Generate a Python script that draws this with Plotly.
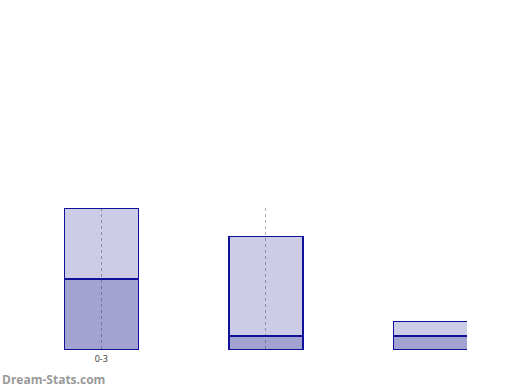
import plotly.graph_objects as go

categories = ["0-3", "4-7", "8-11"]
lower_values = [5, 1, 1]
upper_values = [5, 7, 1]
tick_categories = ["0-3", "4-7"]
tick_labels = ["0-3", ""]

fig = go.Figure()
fig.add_trace(go.Bar(x=categories, y=lower_values, name="lower",
                     marker=dict(color="rgba(0,0,128,0.36)", line=dict(color="#10109a", width=1.5)),
                     width=0.45))
fig.add_trace(go.Bar(x=categories, y=upper_values, name="upper",
                     marker=dict(color="rgba(0,0,128,0.2)", line=dict(color="#10109a", width=1.5)),
                     width=0.45))

fig.update_layout(
    barmode="stack",
    width=520, height=390,
    margin=dict(l=19, r=53, t=208, b=40),
    paper_bgcolor="white", plot_bgcolor="white",
    showlegend=False,
    font=dict(family="Open Sans", size=9, color="#333333"),
    xaxis=dict(type="category", range=[-0.5, 2.222], tickvals=tick_categories, ticktext=tick_labels,
               showgrid=True, gridcolor="#b0b0b8", griddash="dot", gridwidth=1,
               showline=False, zeroline=False, ticks="", ticklabelstandoff=2,
               tickfont=dict(size=9, color="#333333")),
    yaxis=dict(range=[0, 10], showgrid=False, zeroline=False, showticklabels=False,
               showline=False, ticks=""),
    annotations=[dict(text="<b>Dream-Stats.com</b>", xref="paper", yref="paper",
                      x=0, y=0, xanchor="left", yanchor="middle", showarrow=False,
                      xshift=-19, yshift=-29,
                      font=dict(family="Open Sans", size=12, color="#999999"))],
)

fig.write_html("out.html", config={"displayModeBar": False},
               post_script="document.body.style.margin='0';")
